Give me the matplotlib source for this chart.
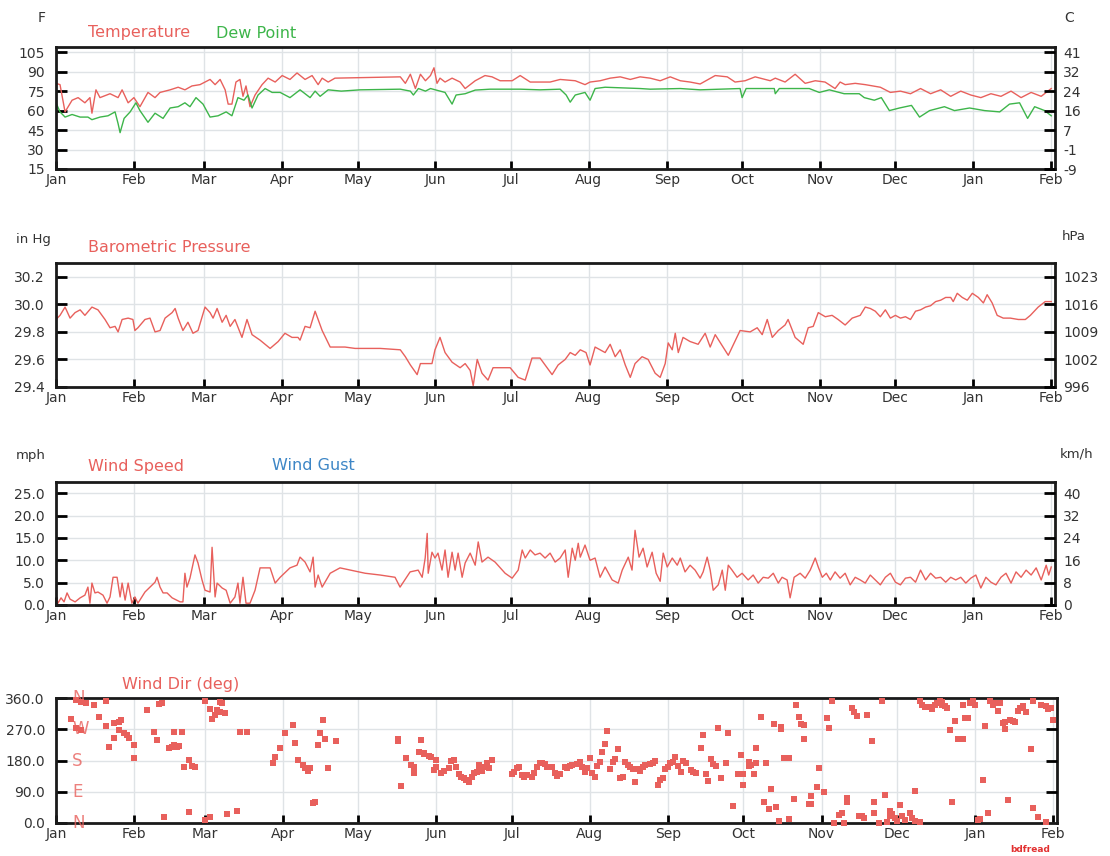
import matplotlib
matplotlib.use("Agg")
import matplotlib.pyplot as plt

W, H = 1110, 856
RED = "#e8605c"
GREEN = "#3db54a"
BLUE = "#3d86c6"
GRID = "#dfe3e6"

# x axis: days since Jan 1, runs to Feb 1 of the next year
month_days = [0, 31, 59, 90, 120, 151, 181, 212, 243, 273, 304, 334, 365, 396]
month_names = ["Jan", "Feb", "Mar", "Apr", "May", "Jun", "Jul", "Aug",
               "Sep", "Oct", "Nov", "Dec", "Jan", "Feb"]

# temperature / dew point (F)
temp_day = [0, 1.6, 3.6, 6.4, 8.8, 11.5, 13.5, 14.3, 15.9, 17.5, 21.5, 24.7, 26.3, 28.7,
            31, 33.4, 36.6, 39.4, 41.4, 45.4, 48.6, 51.3, 54.1, 57.3, 59.3, 61.3, 63.3,
            65.3, 67.3, 68.5, 70, 71.6, 73.2, 74.4, 75.6, 77.2, 79.2, 82, 84.4, 87.2, 90,
            93.1, 95.9, 99.1, 101.9, 104.3, 105.9, 108.3, 111, 137, 139, 141, 143, 145,
            147, 149, 150.4, 151.6, 152.8, 154.8, 157.6, 160.8, 162.8, 164.8, 166.8,
            170.7, 173.5, 176.7, 181.5, 184.7, 188.7, 196.6, 200.6, 206.6, 210.5, 212.5,
            216.5, 220.5, 224.5, 228.5, 232.4, 236.4, 240.4, 244.4, 248.4, 252.3, 256.3,
            262.3, 267.1, 270.2, 274.2, 278.2, 284.2, 286.2, 290.1, 294.1, 298.1, 302.1,
            306, 310, 312, 314, 318, 322, 328, 332, 336, 340, 344, 348, 352, 356, 360,
            364, 368, 372, 376, 380, 384, 388, 392, 396]
temp_f = [81, 80, 59, 68, 70, 66, 70, 58, 76, 70, 73, 70, 76, 66,
          70, 63, 74, 70, 74, 76, 78, 76, 79, 80, 82, 84, 80,
          84, 76, 65, 65, 82, 84, 71, 79, 63, 72, 80, 85, 82, 87,
          84, 89, 84, 87, 80, 85, 82, 85, 86, 81, 88, 77, 88,
          83, 87, 93, 81, 85, 82, 85, 82, 77, 80, 83,
          87, 86, 83, 83, 87, 82, 82, 84, 83, 80, 82,
          83, 85, 86, 84, 86, 85, 83, 86, 83, 82, 80.5,
          87, 86, 82, 83, 86, 83, 85, 82, 88, 81, 83,
          82, 77, 82, 80, 81, 80, 78, 74, 75, 73, 77, 73, 76, 71, 75,
          72, 70, 73, 71, 75, 70, 74, 71, 77]
dew_day = [0, 1.6, 3.6, 6.4, 9.6, 12.7, 14.3, 17.5, 20.7, 23.5, 24.7, 25.5, 27.1, 29.5,
           31.8, 33.4, 36.6, 39.4, 42.6, 45.4, 48.6, 51.3, 53.3, 55.7, 58.5, 61.3, 64.5,
           67.7, 70, 72.4, 74.8, 76.4, 78, 80.4, 83.2, 86, 89.2, 93.1, 97.1, 101.1, 103.1,
           105.1, 108.3, 113.5, 121, 137, 141, 142.2, 144.2, 147, 149, 154.8, 157.6,
           159.2, 162.8, 166.8, 172.7, 184.7, 192.6, 200.6, 203, 204.6, 206.6, 210.5,
           212.5, 214.5, 218.5, 232.4, 236.4, 248.4, 256.3, 272.2, 273, 274.6, 285.8,
           286.2, 287.8, 299.7, 303.7, 307.7, 313.6, 319.6, 321.6, 325.6, 328.4, 331.6,
           335.6, 340.4, 343.6, 347.6, 353.5, 357.5, 363.5, 369.5, 375.5, 379.4, 383.4,
           386.6, 389.4, 393.4, 396]
dew_f = [66, 59, 55, 57, 55, 55, 53, 55, 56, 59, 50, 43, 54, 59,
         66, 60, 51, 58, 54, 62, 63, 66, 63, 70, 65, 55, 56,
         59, 56, 70, 68, 72, 62, 72, 77, 74, 74, 70, 76, 70, 75,
         71, 76, 75, 76, 76.5, 75, 72, 77, 75, 77, 74, 65,
         72, 73, 75.8, 76.5, 76.5, 76, 76.5, 72, 66.5, 72, 74,
         68, 77, 78, 77, 76.5, 77, 76, 77, 70, 77, 77,
         73, 77, 77, 74, 76, 73, 73, 70, 68, 70, 60,
         62, 64, 55, 60, 63, 60, 62, 60, 59, 65, 66,
         54, 63, 60, 56]

# barometric pressure (in Hg)
baro_day = [0, 1.6, 3.6, 5.6, 7.6, 9.6, 11.5, 14.3, 16.7, 19.5, 21.5, 23.5, 24.7, 26.3,
            28.7, 30.6, 31.4, 32.6, 35.4, 37.4, 39.4, 41.4, 43.4, 46.2, 47.4, 48.6, 50.5,
            52.5, 54.5, 56.5, 59.3, 61.3, 62.5, 64.1, 66.1, 67.7, 69.3, 71.2, 74, 76, 78,
            81.2, 85.2, 88.4, 91.1, 93.9, 96.3, 97.1, 99.1, 101.1, 103.1, 105.9, 109.1,
            115, 119, 129, 137, 139, 141, 143.7, 145, 149.6, 150.8, 152.8, 154.8, 157.6,
            160.8, 162.8, 164.8, 166, 167.6, 169.5, 171.9, 173.9, 180.7, 183.9, 186.7,
            189.4, 192.6, 195.4, 197.4, 199.8, 202.6, 204.6, 206.6, 208.6, 210.9, 212.5,
            214.5, 216.5, 218.5, 220.5, 222.5, 224.5, 226.5, 228.5, 230.4, 233.2, 235.6,
            238.4, 240.4, 242.4, 243.6, 245.2, 246.4, 247.6, 249.5, 252.3, 255.5, 258.3,
            260.3, 262.3, 267.5, 272.2, 276.2, 279, 281, 283, 285, 287.4, 290.1, 291.3,
            294.1, 297.3, 299.3, 301.3, 303.3, 306.1, 308.8, 311.2, 314, 316.8, 320, 322,
            324, 326, 328, 330, 332, 334, 336, 338, 340, 342, 344, 346, 348, 350, 352,
            354, 356, 357, 358.6, 360.6, 362.6, 364.6, 367, 369, 370.5, 372.5, 374.5,
            376.9, 379.7, 382.9, 385.7, 387.7, 390.8, 393.6, 396]
baro_inhg = [29.89, 29.92, 29.98, 29.90, 29.94, 29.96, 29.92, 29.98, 29.96, 29.89, 29.83,
             29.84, 29.80, 29.89, 29.90, 29.89, 29.81, 29.83, 29.89, 29.90, 29.80, 29.81,
             29.90, 29.94, 29.97, 29.90, 29.81, 29.87, 29.79, 29.81, 29.98, 29.94, 29.90,
             29.97, 29.87, 29.92, 29.84, 29.89, 29.76, 29.89, 29.78, 29.74, 29.68, 29.73,
             29.79, 29.76, 29.76, 29.74, 29.84, 29.83, 29.95, 29.81, 29.69, 29.69, 29.68,
             29.68, 29.67, 29.62, 29.56, 29.49, 29.57, 29.57, 29.67, 29.76, 29.65, 29.58,
             29.54, 29.57, 29.52, 29.41, 29.60, 29.50, 29.45, 29.54, 29.54, 29.47, 29.45,
             29.61, 29.61, 29.54, 29.49, 29.56, 29.60, 29.65, 29.63, 29.67, 29.65, 29.56,
             29.69, 29.67, 29.65, 29.71, 29.62, 29.67, 29.56, 29.47, 29.57, 29.62, 29.60,
             29.50, 29.47, 29.57, 29.72, 29.67, 29.79, 29.65, 29.76, 29.73, 29.71, 29.79,
             29.69, 29.78, 29.63, 29.81, 29.80, 29.83, 29.78, 29.89, 29.76, 29.81, 29.85,
             29.89, 29.76, 29.71, 29.83, 29.84, 29.94, 29.91, 29.92, 29.89, 29.85, 29.90,
             29.92, 29.98, 29.97, 29.95, 29.91, 29.96, 29.90, 29.92, 29.90, 29.91, 29.89,
             29.95, 29.96, 29.98, 29.99, 30.02, 30.03, 30.05, 30.05, 30.02, 30.08, 30.05,
             30.03, 30.08, 30.05, 30.01, 30.07, 30.01, 29.92, 29.90, 29.90, 29.89, 29.89,
             29.92, 29.98, 30.02, 30.02]

# wind speed (mph)
wind_day = [0, 0.8, 2.0, 3.2, 4.4, 5.6, 7.6, 9.6, 11.5, 12.7, 13.5, 14.3, 15.5, 16.7,
            18.7, 20.3, 21.5, 22.7, 24.3, 25.5, 26.3, 27.5, 28.7, 30.2, 31.4, 32.6, 35.4,
            37.4, 39.4, 40.2, 41.4, 42.6, 44.2, 46.2, 49.4, 50.5, 51.3, 52.1, 53.3, 55.3,
            56.5, 58.1, 59.3, 61.3, 62.1, 63.3, 64.1, 66.1, 67.7, 69.3, 71.2, 72.4, 73.2,
            74.4, 75.6, 77.2, 79.2, 81.2, 85.2, 87.2, 89.2, 93.1, 95.9, 97.1, 99.1, 101.1,
            102.3, 103.1, 104.3, 105.9, 109.1, 113, 123, 129, 134.9, 136.9, 140.9, 144.1,
            145.7, 146.9, 147.7, 148.1, 149.6, 150.8, 152, 153.6, 154.8, 156, 157.6, 158.8,
            160, 161.6, 162.8, 164.8, 166.8, 168, 169.5, 171.9, 174.7, 178.7, 181.5, 183.9,
            185.5, 186.7, 188.7, 190.6, 192.6, 194.6, 196.6, 198.6, 200.6, 202.6, 203.8,
            205.4, 206.6, 207.8, 208.6, 210.5, 212.5, 214.5, 216.5, 218.5, 221.3, 223.7,
            225.3, 227.7, 229.2, 230.4, 232, 233.6, 235.2, 237.2, 238.8, 240.4, 241.6,
            243.2, 245.2, 247.2, 248.4, 250.3, 252.3, 254.3, 256.3, 257.5, 259.1, 260.3,
            261.5, 263.5, 265.1, 266.3, 267.5, 269, 271, 273, 275.4, 277.4, 279.4, 281.4,
            283.4, 285.4, 287.4, 288.9, 290.9, 292.1, 293.7, 296.1, 298.1, 300.1, 302.1,
            303.3, 304.9, 306.5, 308.1, 310, 312, 314, 316, 318, 320, 322, 324, 326, 328,
            330, 332, 334, 336, 338, 340, 342, 344, 346, 348, 350, 352, 354, 356, 358,
            360, 362, 364, 366, 368, 370, 372, 374, 376, 378, 380, 382, 384, 386, 388,
            390, 392, 394, 395, 396]
wind_mph = [2.2, 0.4, 1.6, 0.7, 2.7, 1.3, 0.7, 1.6, 2.2, 4.0, 0.4, 4.9, 2.7, 2.9,
            2.2, 0.4, 1.8, 6.2, 6.2, 1.8, 4.9, 1.1, 4.9, 0.4, 1.8, 0.4, 2.9,
            4.0, 5.1, 6.2, 4.0, 2.7, 2.7, 1.6, 0.7, 0.7, 7.1, 4.0, 6.0, 11.2,
            9.4, 5.6, 3.3, 2.9, 12.9, 1.8, 4.9, 3.8, 3.3, 0.4, 1.8, 4.9, 0.4,
            6.2, 0.4, 0.4, 3.3, 8.3, 8.3, 4.9, 6.2, 8.3, 8.9, 10.7, 9.6, 7.4,
            10.7, 4.0, 6.7, 4.0, 7.1, 8.3, 7.1, 6.7, 6.2, 4.0, 7.4, 7.8,
            6.2, 10.5, 16.0, 7.1, 11.8, 10.5, 11.6, 7.8, 12.3, 6.2, 11.8, 7.8,
            11.6, 6.2, 9.4, 11.6, 8.9, 14.1, 9.6, 10.7, 9.6, 7.1, 6.0, 7.8,
            12.3, 10.5, 12.3, 11.2, 11.6, 10.5, 11.6, 9.6, 10.5, 12.3, 6.2,
            12.7, 10.0, 13.8, 10.7, 13.4, 10.0, 10.5, 6.2, 8.5, 5.6, 4.9,
            7.8, 10.7, 7.8, 16.7, 10.7, 12.7, 8.5, 11.8, 7.1, 5.3, 11.6,
            8.5, 10.5, 8.9, 10.5, 7.4, 8.9, 7.8, 6.0, 7.4, 10.7, 7.8,
            3.3, 4.5, 7.8, 3.3, 8.9, 7.8, 6.2, 7.1, 5.6, 6.7, 4.9, 6.2,
            6.0, 7.1, 4.9, 6.2, 5.6, 1.6, 6.2, 7.1, 6.0, 7.8, 10.5,
            8.5, 6.2, 7.1, 5.6, 7.4, 6.0, 7.1, 4.5, 6.2, 5.6, 4.9, 6.7, 5.6, 4.5,
            6.2, 7.1, 5.1, 4.5, 6.0, 6.2, 5.1, 7.8, 5.6, 7.1, 6.0, 6.2, 5.1, 6.2, 5.6,
            6.2, 4.9, 6.0, 6.7, 3.8, 6.2, 5.1, 4.5, 6.2, 7.1, 4.9, 7.4, 6.2, 7.8, 6.7,
            8.3, 5.6, 8.9, 6.7, 8.5]

# wind direction (deg), daily readings
dir_day = [6, 8, 8, 10, 10, 12, 15, 17, 20, 20, 21, 23, 23, 25, 25, 26, 27, 28, 29, 31,
           31, 36, 39, 40, 41, 42, 43, 45, 46, 47, 47, 48, 49, 50, 51, 53, 53, 54, 55,
           59, 59, 61, 61, 62, 63, 64, 65, 65, 66, 67, 68, 72, 73, 76, 86, 87, 89, 91,
           94, 95, 96, 98, 99, 100, 101, 102, 103, 104, 105, 106, 107, 108, 111,
           136, 136, 137, 139, 141, 142, 142, 144, 145, 146, 146, 148, 149, 150, 151,
           151, 153, 154, 156, 157, 158, 159, 160, 161, 162, 163, 164, 165, 166, 167,
           168, 168, 169, 170, 171, 172, 173, 181, 182, 183, 184, 185, 186, 187, 189,
           190, 191, 192, 193, 194, 195, 197, 198, 199, 200, 202, 203, 204, 205, 207,
           208, 209, 210, 211, 212, 213, 214, 215, 216, 217, 218, 219, 220, 221, 222,
           223, 224, 225, 226, 227, 228, 229, 230, 231, 232, 233, 234, 236, 237, 238,
           239, 240, 241, 242, 243, 244, 245, 246, 247, 248, 249, 250, 252, 253, 254,
           256, 257, 258, 259, 260, 261, 262, 263, 264, 266, 267, 269, 271, 272, 273,
           273, 275, 275, 276, 277, 278, 278, 280, 281, 282, 283, 284, 285, 286, 287,
           288, 288, 289, 291, 291, 293, 294, 295, 296, 297, 297, 299, 300, 300, 302,
           303, 305, 306, 307, 308, 309, 311, 312, 313, 314, 314, 316, 317, 318, 319,
           320, 321, 322, 324, 325, 325, 327, 328, 329, 330, 331, 331, 332, 333, 334,
           335, 336, 337, 339, 340, 341, 341, 343, 343, 344, 345, 347, 348, 349, 350,
           351, 352, 352, 353, 354, 355, 356, 357, 358, 360, 360, 361, 362, 363, 364,
           365, 366, 367, 368, 369, 370, 371, 372, 373, 374, 375, 376, 377, 377, 378,
           379, 380, 381, 382, 383, 384, 385, 387, 388, 388, 390, 391, 393, 393, 394,
           395, 396]
dir_deg = [300, 354, 274, 349, 268, 345, 340, 305, 279, 351, 219, 245, 288, 291, 268,
           297, 259, 253, 245, 225, 187, 325, 262, 239, 343, 345, 17, 216, 219, 262,
           225, 219, 222, 262, 161, 32, 181, 164, 161, 351, 9, 17, 328, 300, 311, 325,
           348, 320, 345, 317, 26, 35, 262, 262, 173, 190, 216, 259, 282, 230, 181,
           167, 158, 150, 158, 58, 60, 225, 259, 297, 242, 158, 236,
           241, 237, 107, 186, 167, 160, 145, 205, 239, 201, 199, 193, 189, 153, 181,
           160, 145, 151, 157, 180, 181, 160, 141, 133, 129, 124, 119, 133, 143, 148,
           160, 167, 151, 160, 172, 157, 181, 141, 148, 157, 162, 138, 133, 138, 133,
           143, 160, 172, 174, 170, 160, 160, 143, 135, 141, 160, 157, 164, 167, 170,
           177, 160, 148, 157, 186, 143, 132, 164, 177, 205, 228, 266, 155, 177, 183,
           212, 129, 133, 177, 167, 160, 155, 119, 155, 151, 160, 167, 170, 174, 180,
           109, 124, 129, 155, 162, 172, 177, 191, 164, 148, 180, 174, 153, 148, 145,
           215, 253, 141, 122, 185, 170, 163, 274, 131, 173, 258, 49, 141, 195, 109,
           141, 175, 163, 167, 141, 173, 216, 306, 60, 173, 41, 97, 284, 47, 5,
           270, 277, 187, 187, 12, 68, 339, 304, 284, 282, 241, 56, 78, 56, 105,
           158, 88, 302, 274, 350, 1, 24, 29, 1, 73, 60, 331, 319, 309, 19,
           21, 15, 311, 235, 29, 60, 1, 350, 80, 2, 34, 19, 27, 15, 5,
           51, 19, 10, 29, 15, 92, 5, 2, 352, 341, 333, 333, 329, 341, 345,
           352, 341, 348, 336, 331, 268, 60, 294, 241, 241, 339, 302, 302, 345, 350,
           341, 10, 12, 125, 280, 29, 350, 341, 345, 323, 345, 287, 272, 292, 66,
           297, 294, 290, 323, 331, 336, 321, 214, 44, 350, 18, 341, 336, 2, 329,
           331, 297]

temp_ticks = [15, 30, 45, 60, 75, 90, 105]
temp_c_labels = ["-9", "-1", "7", "16", "24", "32", "41"]
baro_ticks = [29.4, 29.6, 29.8, 30.0, 30.2]
baro_hpa_labels = ["996", "1002", "1009", "1016", "1023"]
wind_ticks = [0, 5, 10, 15, 20, 25]
wind_kmh_labels = ["0", "8", "16", "24", "32", "40"]
dir_ticks = [0, 90, 180, 270, 360]
dir_letters = ["N", "E", "S", "W", "N"]

plt.rcParams["font.family"] = "DejaVu Sans"
fig = plt.figure(figsize=(W / 100, H / 100), dpi=100)


def rect(left, top, right, bottom):
    return [left / W, 1 - bottom / H, (right - left) / W, (bottom - top) / H]


def ftext(x, y, s, **kw):
    fig.text(x / W, 1 - y / H, s, va="center", **kw)


def style(ax, yticks, ylabels, ylim):
    ax.set_xlim(0, 397.5)
    ax.set_ylim(*ylim)
    ax.set_xticks(month_days)
    ax.set_xticklabels(month_names, fontsize=10, color="#333333")
    ax.set_yticks(yticks)
    ax.set_yticklabels(ylabels, fontsize=10, color="#333333")
    ax.grid(True, color=GRID, linewidth=1)
    ax.set_axisbelow(True)
    ax.tick_params(axis="y", direction="in", length=8, width=2, pad=8)
    ax.tick_params(axis="x", direction="in", length=6, width=2, pad=3)
    for sp in ax.spines.values():
        sp.set_linewidth(2)
        sp.set_color("#1a1a1a")


def right_axis(ax, yticks, labels, show_labels=True):
    r = ax.twinx()
    r.set_ylim(ax.get_ylim())
    r.set_yticks(yticks)
    r.set_yticklabels(labels if show_labels else [], fontsize=10, color="#333333")
    r.tick_params(axis="y", direction="in", length=8, width=2, pad=6)
    for sp in r.spines.values():
        sp.set_visible(False)
    return r


# panel 1: temperature
ax1 = fig.add_axes(rect(56, 47, 1055, 169))
style(ax1, temp_ticks, [str(t) for t in temp_ticks], (15, 109))
ax1.plot(temp_day, temp_f, color=RED, linewidth=1.0)
ax1.plot(dew_day, dew_f, color=GREEN, linewidth=1.0)
right_axis(ax1, temp_ticks, temp_c_labels)
ftext(38, 18, "F", fontsize=10, color="#333333")
ftext(1064, 18, "C", fontsize=10, color="#333333")
ftext(88, 33, "Temperature", fontsize=11.5, color=RED)
ftext(216, 33, "Dew Point", fontsize=11.5, color=GREEN)

# panel 2: pressure
ax2 = fig.add_axes(rect(56, 263, 1055, 387))
style(ax2, baro_ticks, ["%.1f" % t for t in baro_ticks], (29.4, 30.3))
ax2.plot(baro_day, baro_inhg, color=RED, linewidth=1.0)
right_axis(ax2, baro_ticks, baro_hpa_labels)
ftext(16, 240, "in Hg", fontsize=9.5, color="#333333")
ftext(1062, 237, "hPa", fontsize=9.5, color="#333333")
ftext(88, 248, "Barometric Pressure", fontsize=11.5, color=RED)

# panel 3: wind speed
ax3 = fig.add_axes(rect(56, 482, 1055, 605))
style(ax3, wind_ticks, ["%.1f" % t for t in wind_ticks], (0, 27.5))
ax3.plot(wind_day, wind_mph, color=RED, linewidth=1.0)
right_axis(ax3, wind_ticks, wind_kmh_labels)
ftext(16, 455, "mph", fontsize=9.5, color="#333333")
ftext(1060, 454, "km/h", fontsize=9.5, color="#333333")
ftext(88, 466, "Wind Speed", fontsize=11.5, color=RED)
ftext(272, 466, "Wind Gust", fontsize=11.5, color=BLUE)

# panel 4: wind direction
ax4 = fig.add_axes(rect(56, 698, 1057, 823))
style(ax4, dir_ticks, ["%.1f" % t for t in dir_ticks], (0, 360))
ax4.scatter(dir_day, dir_deg, s=13, marker="s", color=RED, linewidths=0, zorder=3,
            clip_on=False)
right_axis(ax4, [90, 180, 270], [], show_labels=False)
for d, letter in zip(dir_ticks, dir_letters):
    ax4.text(6.5, d, letter, color=RED, fontsize=12, ha="left", va="center",
             alpha=0.8, zorder=4)
ftext(122, 684, "Wind Dir (deg)", fontsize=11.5, color=RED)
ftext(1010, 849, "bdfread", fontsize=6.5, color="#e23030", fontweight="bold")

fig.savefig("out.png", dpi=100)
